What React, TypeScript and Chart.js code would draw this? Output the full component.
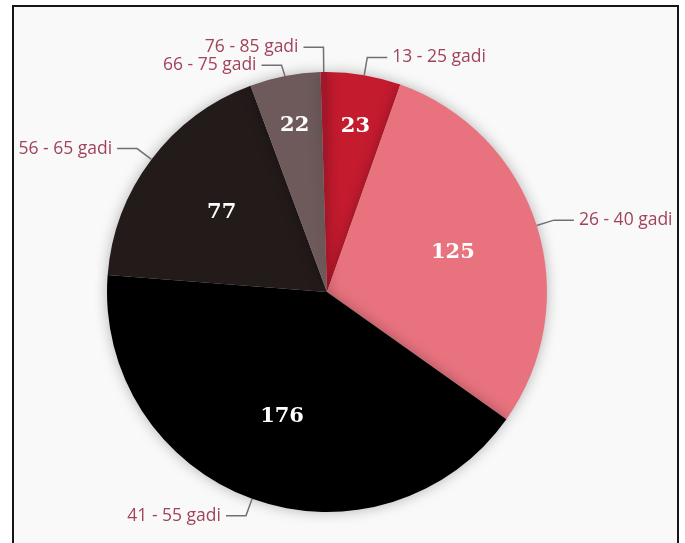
import React, { useEffect, useRef } from 'react';
import { Chart, registerables } from 'chart.js';

Chart.register(...registerables);

const categories = ['13 - 25 gadi', '26 - 40 gadi', '41 - 55 gadi', '56 - 65 gadi', '66 - 75 gadi', '76 - 85 gadi'];
const values = [23, 125, 176, 77, 22, 2];
const colors = ['#c41b2f', '#e8737f', '#000000', '#231a1a', '#6e5a5a', '#a3172a'];

const labelPlugin = {
  id: 'pieLabels',
  beforeDatasetDraw(chart: any) {
    const ctx = chart.ctx;
    ctx.save();
    ctx.shadowColor = 'rgba(0,0,0,0.28)';
    ctx.shadowBlur = 14;
  },
  afterDatasetDraw(chart: any) {
    chart.ctx.restore();
  },
  afterDraw(chart: any) {
    const ctx = chart.ctx;
    const meta = chart.getDatasetMeta(0);
    const L1 = 18, L2 = 20, GAP = 5, MIN = 18;
    const items = meta.data.map((arc: any, i: number) => {
      const p = arc.getProps(['x', 'y', 'startAngle', 'endAngle', 'outerRadius'], true);
      const mid = (p.startAngle + p.endAngle) / 2;
      const c = Math.cos(mid), s = Math.sin(mid);
      const R = p.outerRadius;
      return {
        i, x: p.x, y: p.y, c, s, R, span: p.endAngle - p.startAngle,
        ex: p.x + c * R, ey: p.y + s * R,
        bx: p.x + c * (R + L1), by: p.y + s * (R + L1),
        side: c >= 0 ? 1 : -1,
      };
    });
    [1, -1].forEach((side) => {
      const list = items.filter((it: any) => it.side === side).sort((a: any, b: any) => a.by - b.by);
      for (let iter = 0; iter < 20; iter++) {
        let moved = false;
        for (let k = 1; k < list.length; k++) {
          const a = list[k - 1], b = list[k];
          const d = b.by - a.by;
          if (d < MIN - 0.01) {
            const o = (MIN - d) / 2;
            a.by -= o; b.by += o; moved = true;
          }
        }
        if (!moved) break;
      }
    });

    ctx.save();
    // value labels
    ctx.fillStyle = '#ffffff';
    ctx.font = 'bold 21px "DejaVu Serif"';
    ctx.textAlign = 'center';
    ctx.textBaseline = 'middle';
    items.forEach((it: any) => {
      if (values[it.i] < 10) return;
      const r = it.R * Math.max(0.6, 0.85 - 0.25 * it.span);
      ctx.fillText(String(values[it.i]), it.x + it.c * r, it.y + it.s * r);
    });

    // outer labels
    ctx.strokeStyle = '#707070';
    ctx.lineWidth = 1.5;
    ctx.font = '17.5px "Open Sans"';
    ctx.fillStyle = '#a1435a';
    items.forEach((it: any) => {
      const hx = it.bx + it.side * L2;
      ctx.beginPath();
      ctx.moveTo(it.ex, it.ey);
      ctx.lineTo(it.bx, it.by);
      ctx.lineTo(hx, it.by);
      ctx.stroke();
      ctx.textAlign = it.side > 0 ? 'left' : 'right';
      ctx.fillText(categories[it.i], hx + it.side * GAP, it.by);
    });
    ctx.restore();
  },
};

export default function App() {
  const ref = useRef<HTMLCanvasElement | null>(null);
  useEffect(() => {
    if (!ref.current) return;
    const chart = new Chart(ref.current, {
      type: 'pie',
      data: {
        labels: categories,
        datasets: [{ data: values, backgroundColor: colors, borderWidth: 0 }],
      },
      options: {
        responsive: false,
        maintainAspectRatio: false,
        animation: false,
        devicePixelRatio: 1,
        layout: { padding: { left: 93, right: 130, top: 65, bottom: 31 } },
        plugins: { legend: { display: false }, tooltip: { enabled: false } },
      },
      plugins: [labelPlugin],
    });
    return () => chart.destroy();
  }, []);
  return (
    <div
      style={{
        position: 'fixed', left: 12, top: 5, width: 667, height: 560,
        border: '2px solid #161616', boxSizing: 'border-box', background: '#f9f9f9',
      }}
    >
      <canvas ref={ref} width={663} height={536} style={{ display: 'block', width: 663, height: 536 }} />
    </div>
  );
}
